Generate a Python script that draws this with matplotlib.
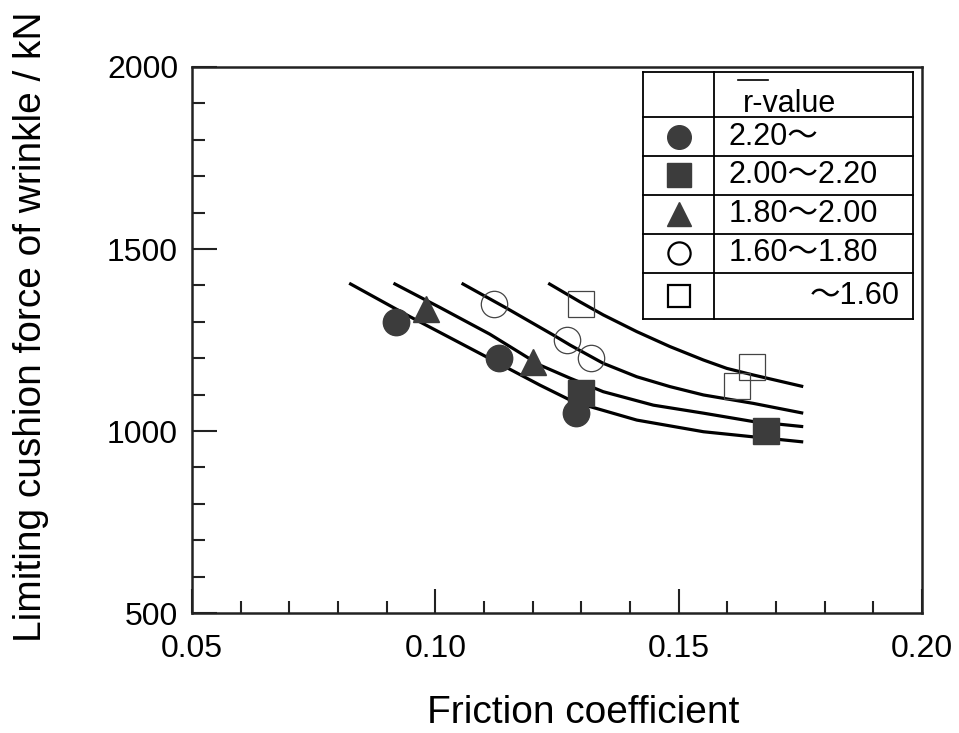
#!/usr/bin/env python3

import matplotlib
matplotlib.use('Agg')
import matplotlib.pyplot as plt
import numpy as np

plt.rcParams['font.family'] = ['Liberation Sans', 'Noto Sans CJK JP']

# measured points, grouped by r-value class
labels = ['2.20～', '2.00～2.20', '1.80～2.00', '1.60～1.80', '～1.60']
markers = ['o', 's', '^', 'o', 's']
filled = [True, True, True, False, False]

mu_pts = [
    [0.092, 0.113, 0.129],
    [0.130, 0.168],
    [0.098, 0.120],
    [0.112, 0.127, 0.132],
    [0.130, 0.162, 0.165],
]
force_pts = [
    [1300, 1200, 1050],
    [1105, 1000],
    [1335, 1190],
    [1350, 1250, 1200],
    [1350, 1125, 1175],
]

# fitted curves
curve_mu = [
    [0.0823, 0.0948, 0.1106, 0.1215, 0.1277, 0.1318, 0.1414, 0.1551, 0.1653, 0.1756],
    [0.0914, 0.1010, 0.1112, 0.1215, 0.1277, 0.1345, 0.1448, 0.1551, 0.1653, 0.1756],
    [0.1054, 0.1147, 0.1242, 0.1277, 0.1345, 0.1414, 0.1482, 0.1551, 0.1653, 0.1756],
    [0.1232, 0.1297, 0.1345, 0.1414, 0.1482, 0.1551, 0.1599, 0.1653, 0.1756],
]
curve_force = [
    [1406, 1314, 1203, 1126, 1085, 1067, 1030, 998, 984, 970],
    [1406, 1339, 1266, 1181, 1145, 1108, 1071, 1049, 1026, 1012],
    [1406, 1337, 1264, 1236, 1186, 1149, 1122, 1099, 1076, 1049],
    [1406, 1355, 1319, 1273, 1232, 1195, 1172, 1154, 1122],
]

fig = plt.figure(figsize=(9.59, 7.33), dpi=100)
ax = fig.add_axes([0.2002, 0.1637, 0.7612, 0.7449])

for cx, cy in zip(curve_mu, curve_force):
    ax.plot(cx, cy, color='black', lw=2.3, solid_capstyle='butt',
            solid_joinstyle='round', zorder=2)

dark = '#3c3c3c'
for i in range(len(labels)):
    if filled[i]:
        ax.plot(mu_pts[i], force_pts[i], ls='none', marker=markers[i], ms=19,
                mfc=dark, mec=dark, mew=1, zorder=3)
    else:
        ax.plot(mu_pts[i], force_pts[i], ls='none', marker=markers[i], ms=19,
                mfc='none', mec='#444444', mew=0.9, zorder=3)

ax.set_xlim(0.05, 0.20)
ax.set_ylim(500, 2000)
ax.set_xticks([0.05, 0.10, 0.15, 0.20])
ax.set_xticklabels(['0.05', '0.10', '0.15', '0.20'])
ax.set_yticks([500, 1000, 1500, 2000])
ax.set_xticks(np.arange(0.06, 0.20, 0.01), minor=True)
ax.set_yticks(np.arange(600, 2000, 100), minor=True)
ax.tick_params(which='both', direction='in', width=1.5, color='#222222',
               labelsize=23, top=False, right=False)
ax.tick_params(axis='x', which='major', length=17, pad=15)
ax.tick_params(axis='x', which='minor', length=9)
ax.tick_params(axis='y', which='major', length=18, pad=10)
ax.tick_params(axis='y', which='minor', length=9)
for s in ax.spines.values():
    s.set_linewidth(1.8)
    s.set_color('#222222')

fig.text(583 / 959, 10 / 733, 'Friction coefficient', fontsize=28,
         ha='center', va='baseline')
fig.text(31 / 959, 1 - 327 / 733, 'Limiting cushion force of wrinkle / kN',
         fontsize=28, rotation=90, ha='center', va='center')

# table-style legend inside the upper right corner
tr = ax.transAxes
x0, xs, x1 = 0.618, 0.715, 0.988
rows_y = [0.991, 0.908, 0.837, 0.766, 0.694, 0.623, 0.538]
for yy in rows_y:
    ax.plot([x0, x1], [yy, yy], color='black', lw=1.3, transform=tr, zorder=5)
for xx in [x0, xs, x1]:
    ax.plot([xx, xx], [rows_y[0], rows_y[-1]], color='black', lw=1.3,
            transform=tr, zorder=5)
ax.fill_between([x0, x1], rows_y[-1], rows_y[0], color='white',
                transform=tr, zorder=4)

ax.text(0.755, 0.933, 'r-value', transform=tr, fontsize=22,
        ha='left', va='center', zorder=6)
ax.plot([0.748, 0.789], [0.977, 0.977], color='black', lw=1.2,
        transform=tr, zorder=6)

sym_x = 0.6665
for i in range(len(labels)):
    yc = (rows_y[i + 1] + rows_y[i + 2]) / 2
    if filled[i]:
        ax.plot([sym_x], [yc], marker=markers[i], ms=17, mfc=dark, mec=dark,
                transform=tr, zorder=6, ls='none')
    else:
        ax.plot([sym_x], [yc], marker=markers[i], ms=16, mfc='white',
                mec='black', mew=1.6, transform=tr, zorder=6, ls='none')
    if labels[i].startswith('～'):
        ax.text(0.970, yc, labels[i], transform=tr, fontsize=22,
                ha='right', va='center', zorder=6)
    else:
        ax.text(0.735, yc, labels[i], transform=tr, fontsize=22,
                ha='left', va='center', zorder=6)

fig.savefig('out.png', dpi=100)
